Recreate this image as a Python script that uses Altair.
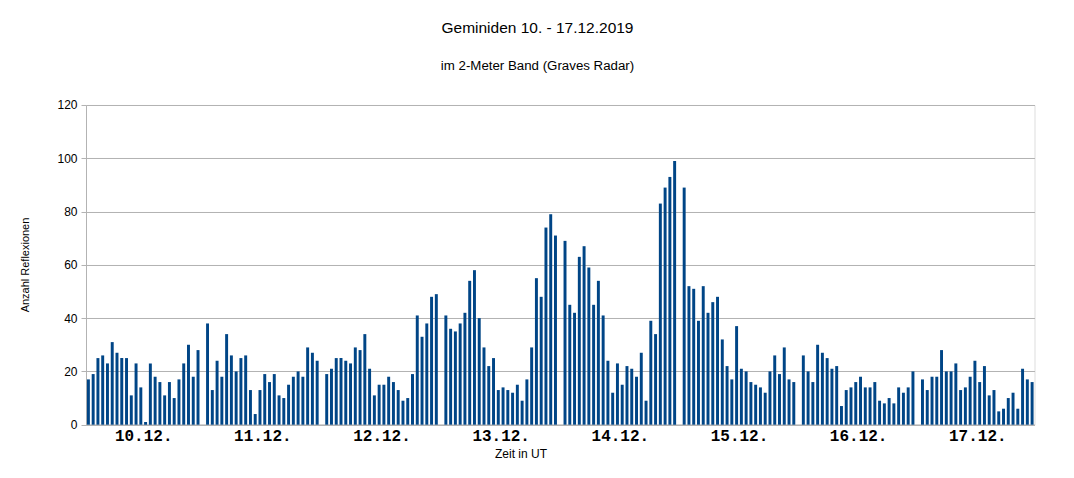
import altair as alt
import pandas as pd

# hourly reflection counts per day (24 hours each)
day_labels = ["10.12.", "11.12.", "12.12.", "13.12.", "14.12.", "15.12.", "16.12.", "17.12."]
d10 = [17, 19, 25, 26, 23, 31, 27, 25, 25, 11, 23, 14, 1, 23, 18, 16, 11, 16, 10, 17, 23, 30, 18, 28]
d11 = [38, 13, 24, 18, 34, 26, 20, 25, 26, 13, 4, 13, 19, 16, 19, 11, 10, 15, 18, 20, 18, 29, 27, 24]
d12 = [19, 21, 25, 25, 24, 23, 29, 28, 34, 21, 11, 15, 15, 18, 16, 13, 9, 10, 19, 41, 33, 38, 48, 49]
d13 = [41, 36, 35, 38, 42, 54, 58, 40, 29, 22, 25, 13, 14, 13, 12, 15, 9, 17, 29, 55, 48, 74, 79, 71]
d14 = [69, 45, 42, 63, 67, 59, 45, 54, 41, 24, 12, 23, 15, 22, 21, 18, 27, 9, 39, 34, 83, 89, 93, 99]
d15 = [89, 52, 51, 39, 52, 42, 46, 48, 32, 22, 17, 37, 21, 20, 16, 15, 14, 12, 20, 26, 19, 29, 17, 16]
d16 = [26, 20, 16, 30, 27, 25, 21, 22, 7, 13, 14, 16, 18, 14, 14, 16, 9, 8, 10, 8, 14, 12, 14, 20]
d17 = [17, 13, 18, 18, 28, 20, 20, 23, 13, 14, 18, 24, 16, 22, 11, 13, 5, 6, 10, 12, 6, 21, 17, 16]
days = [d10, d11, d12, d13, d14, d15, d16, d17]

title_text = "Geminiden 10. - 17.12.2019"
subtitle_text = "im 2-Meter Band (Graves Radar)"
y_title = "Anzahl Reflexionen"
x_title = "Zeit in UT"

SLOTS = 25  # 24 hours + one empty slot between days
rows = []
for d, vals in enumerate(days):
    for h, v in enumerate(vals):
        idx = d * SLOTS + h
        rows.append({"x0": idx + 0.19, "x1": idx + 0.81, "v": v})
df = pd.DataFrame(rows)
n_slots = len(days) * SLOTS - 1

label_arr = "[" + ",".join("'%s'" % s for s in day_labels) + "]"
tick_vals = [d * SLOTS + 12 for d in range(len(days))]

W, H = 948.5, 319.7
GRAY = "#b3b3b3"

bars = alt.Chart(df).mark_rect(color="#004586").encode(
    x=alt.X("x0:Q",
            scale=alt.Scale(domain=[0, n_slots], nice=False, zero=False),
            axis=alt.Axis(values=tick_vals, labelExpr=label_arr + "[floor(datum.value/25)]",
                          ticks=False, tickSize=0, grid=False, domainColor=GRAY, domainWidth=1.5,
                          labelFont="Liberation Mono", labelFontSize=16, labelFontWeight="bold",
                          labelColor="#000000", labelBaseline="alphabetic", labelPadding=16,
                          labelAlign="center", title=None)),
    x2="x1:Q",
    y=alt.Y("v:Q",
            scale=alt.Scale(domain=[0, 120], nice=False),
            axis=alt.Axis(values=[0, 20, 40, 60, 80, 100, 120], grid=True, gridColor=GRAY,
                          tickColor=GRAY, tickSize=5, domainColor=GRAY,
                          labelFont="Liberation Sans", labelFontSize=12, labelColor="#000000",
                          labelPadding=4, title=None)),
    y2=alt.datum(0),
)

def txt(s, x, y, size, angle=0, baseline="alphabetic"):
    return alt.Chart(pd.DataFrame({"t": [s]})).mark_text(
        font="Liberation Sans", fontSize=size, color="#000000", align="center",
        baseline=baseline, angle=angle,
    ).encode(x=alt.value(x), y=alt.value(y), text="t:N")

chart = alt.layer(
    bars,
    txt(title_text, 451.5, -72.3, 15.5),
    txt(subtitle_text, 451.5, -35, 13.3),
    txt(y_title, -60, 160, 11, angle=270, baseline="middle"),
    txt(x_title, 435, 352.8, 12),
).properties(
    width=W, height=H,
    autosize=alt.AutoSizeParams(type="none"),
    padding={"left": 78, "top": 97, "right": 31, "bottom": 45},
).configure_view(stroke=GRAY, strokeWidth=1).configure(background="white")

chart.save("out.html", embed_options={"renderer": "svg", "actions": False})
